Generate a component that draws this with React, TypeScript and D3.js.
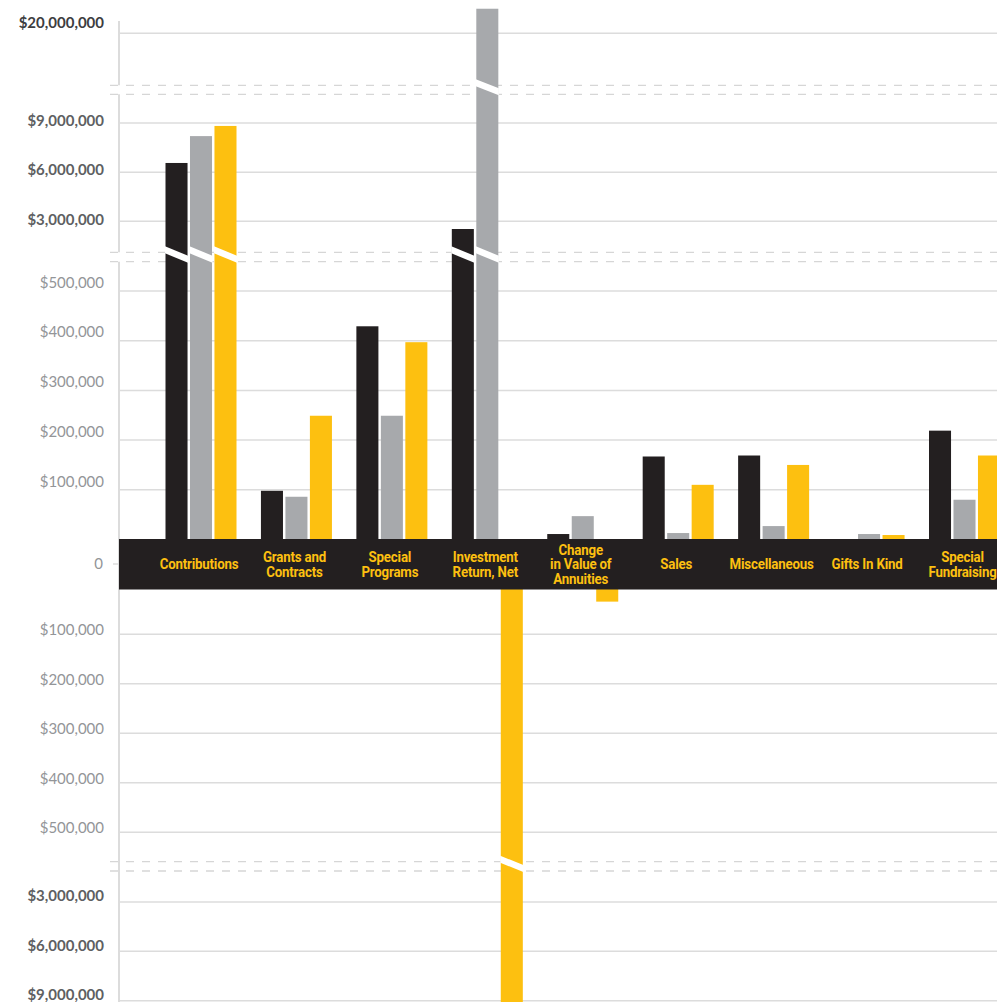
import React from "react";
import * as d3 from "d3";

// ---------- data ----------
const categories = [
  "Contributions",
  "Grants and Contracts",
  "Special Programs",
  "Investment Return, Net",
  "Change in Value of Annuities",
  "Sales",
  "Miscellaneous",
  "Gifts In Kind",
  "Special Fundraising",
];
const categoryLines = [
  ["Contributions"],
  ["Grants and", "Contracts"],
  ["Special", "Programs"],
  ["Investment", "Return, Net"],
  ["Change", "in Value of", "Annuities"],
  ["Sales"],
  ["Miscellaneous"],
  ["Gifts In Kind"],
  ["Special", "Fundraising"],
];
const seriesNames = ["seriesA", "seriesB", "seriesC"];
const seriesA = [6560000, 98000, 429000, 2530000, 11000, 167000, 169000, 0, 219000];
const seriesB = [8200000, 86000, 249000, 21500000, 47000, 13000, 27000, 11000, 80000];
const seriesC = [8820000, 249000, 397000, -10000000, -34000, 110000, 150000, 9000, 169000];

const topTicks = [20000000];
const midTicks = [9000000, 6000000, 3000000];
const upperTicks = [500000, 400000, 300000, 200000, 100000];
const lowerTicks = [-100000, -200000, -300000, -400000, -500000];
const bottomTicks = [-3000000, -6000000, -9000000];

// ---------- layout ----------
const W = 997;
const H = 1002;
const axisX = 119;
const colors = ["#231f20", "#a7a9ac", "#fdc010"];
const gridColor = "#dcdcdc";

const topScale = d3.scaleLinear().domain([20000000, 14000000]).range([33.3, 33.3 + 6 * 16.38]);
const midScale = d3.scaleLinear().domain([9000000, 3000000]).range([123, 221.3]);
const upperScale = d3.scaleLinear().domain([0, 500000]).range([539.5, 291]);
const lowerScale = d3.scaleLinear().domain([0, -500000]).range([584.8, 832.3]);
const bottomScale = d3.scaleLinear().domain([-3000000, -9000000]).range([902, 1000.7]);

const breakTop: [number, number] = [85.3, 94.3];
const breakMid: [number, number] = [252.3, 261.7];
const breakLow: [number, number] = [861.7, 871];
const bandTop = 539;
const bandBottom = 589.5;

function yOf(v: number) {
  if (v >= 0) {
    if (v < 1000000) return upperScale(v);
    if (v < 14000000) return midScale(v);
    return topScale(v);
  }
  if (v > -1000000) return lowerScale(v);
  return bottomScale(v);
}

function breaksFor(v: number): [number, number][] {
  const b: [number, number][] = [];
  if (v >= 1000000) b.push(breakMid);
  if (v >= 14000000) b.push(breakTop);
  if (v <= -1000000) b.push(breakLow);
  return b;
}

const xGroup = d3.scalePoint<string>().domain(categories).range([201, 964.5]);
const xInner = d3.scaleBand<string>().domain(seriesNames).range([-35.5, 35.5]).paddingInner(0.1);

const fmt = d3.format(",");
const label = (v: number) => "$" + fmt(Math.abs(v));

const tickGroups = [
  { ticks: topTicks, scale: topScale, dy: -10.5, color: "#3d3d3f", weight: 700 },
  { ticks: midTicks, scale: midScale, dy: -2, color: "#5e5f62", weight: 700 },
  { ticks: upperTicks, scale: upperScale, dy: -8.5, color: "#939598", weight: 400 },
  { ticks: lowerTicks, scale: lowerScale, dy: -4.5, color: "#939598", weight: 400 },
  { ticks: bottomTicks, scale: bottomScale, dy: -6, color: "#5e5f62", weight: 700 },
];

export default function App() {
  const allSeries = [seriesA, seriesB, seriesC];
  const bw = xInner.bandwidth();
  return (
    <svg
      width={W}
      height={H}
      style={{ position: "absolute", left: 0, top: 0, background: "#fff" }}
      viewBox={`0 0 ${W} ${H}`}
    >
      <rect x={0} y={0} width={W} height={H} fill="#fff" />
      {/* gridlines */}
      {tickGroups.map((g, gi) =>
        g.ticks.map((t) => (
          <line
            key={`g${gi}-${t}`}
            x1={axisX}
            x2={W}
            y1={g.scale(t)}
            y2={g.scale(t)}
            stroke={gridColor}
            strokeWidth={1.5}
          />
        ))
      )}
      {/* dashed break lines */}
      {[...breakTop, ...breakMid, ...breakLow].map((y, i) => (
        <line
          key={`d${i}`}
          x1={110}
          x2={W}
          y1={y}
          y2={y}
          stroke="#d6d6d6"
          strokeWidth={1.3}
          strokeDasharray="8 8"
        />
      ))}
      {/* axis line */}
      {[
        [21, breakTop[0]],
        [breakTop[1], breakMid[0]],
        [breakMid[1], H],
      ].map(([a, b], i) => (
        <line key={`ax${i}`} x1={axisX} x2={axisX} y1={a} y2={b} stroke={gridColor} strokeWidth={2} />
      ))}
      <line x1={113} x2={119} y1={564} y2={564} stroke={gridColor} strokeWidth={1.5} />

      {/* tick labels */}
      <g fontFamily="Lato, 'Open Sans', sans-serif" fontSize={15} textAnchor="end">
        {tickGroups.map((g, gi) =>
          g.ticks.map((t) => (
            <text
              key={`t${gi}-${t}`}
              x={104}
              y={g.scale(t) + g.dy}
              dy="0.35em"
              fill={g.color}
              fontWeight={g.weight}
            >
              {label(t)}
            </text>
          ))
        )}
        <text x={103} y={564} dy="0.35em" fill="#939598">
          0
        </text>
      </g>

      {/* bars */}
      {categories.map((c, ci) => (
        <g key={c} transform={`translate(${xGroup(c)},0)`}>
          {allSeries.map((s, si) => {
            const v = s[ci];
            if (v === 0) return null;
            const x0 = xInner(seriesNames[si]) as number;
            const y0 = v >= 0 ? upperScale(0) : lowerScale(0);
            const y1 = yOf(v);
            const y = Math.min(y0, y1);
            const h = Math.abs(y1 - y0);
            return (
              <g key={si}>
                <rect x={x0} y={y} width={bw} height={h} fill={colors[si]} />
                {breaksFor(v).map(([d1, d2], bi) => (
                  <polygon
                    key={bi}
                    fill="#fff"
                    points={`${x0 - 0.5},${d1 - 6} ${x0 + bw + 0.5},${d2 - 6} ${x0 + bw + 0.5},${d2 + 1} ${x0 - 0.5},${d1 + 1}`}
                  />
                ))}
              </g>
            );
          })}
        </g>
      ))}

      {/* category band */}
      <rect x={axisX} y={bandTop} width={W - axisX} height={bandBottom - bandTop} fill="#231f20" />
      <g fontFamily="Roboto, sans-serif" fontWeight={700} fontSize={14} fill="#fdc010" textAnchor="middle">
        {categories.map((c, ci) => {
          const lines = categoryLines[ci];
          const lh = 14.5;
          const startY = 564.5 - ((lines.length - 1) * lh) / 2;
          return (
            <g key={c} transform={`translate(${xGroup(c) - 2},0) scale(0.95,1)`}>
              <text x={0} y={startY} letterSpacing={-0.2}>
                {lines.map((ln, li) => (
                  <tspan key={li} x={0} y={startY + li * lh} dy="0.35em">
                    {ln}
                  </tspan>
                ))}
              </text>
            </g>
          );
        })}
      </g>
    </svg>
  );
}
